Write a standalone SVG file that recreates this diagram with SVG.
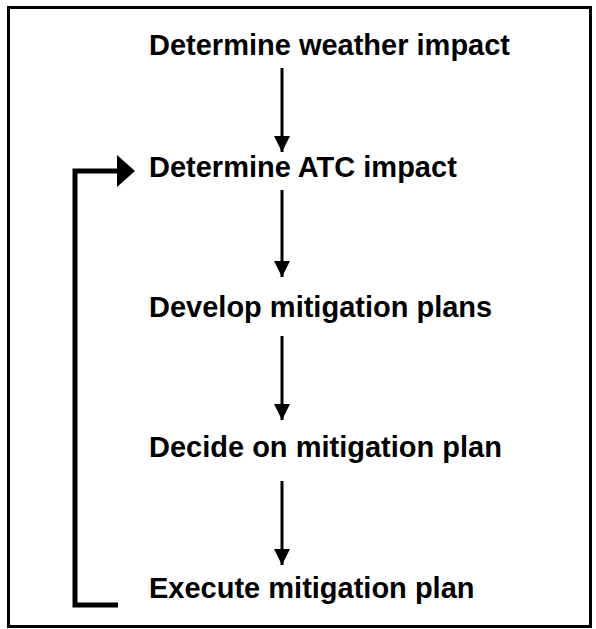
<svg xmlns="http://www.w3.org/2000/svg" width="596" height="629" viewBox="0 0 596 629">
<style>
.lbl{font-family:"Liberation Sans",Arial,sans-serif;font-weight:bold;font-size:29px;fill:#000}
.ln{stroke:#000;stroke-width:3;fill:none}
.loop{stroke:#000;stroke-width:5;fill:none}
</style>
<defs>
<marker id="ah" viewBox="0 0 10 10" refX="10" refY="5" markerWidth="5.5" markerHeight="6" markerUnits="strokeWidth" orient="auto">
<path d="M0,0 L10,5 L0,10 Z" fill="#000"/>
</marker>
</defs>
<rect x="0" y="0" width="596" height="629" fill="#fff"/>
<rect x="8.5" y="7.5" width="582" height="619" fill="#fff" stroke="#000" stroke-width="3"/>
<g id="n1"><text class="lbl" x="149" y="55">Determine weather impact</text></g>
<g id="n2"><text class="lbl" x="149" y="177">Determine ATC impact</text></g>
<g id="n3"><text class="lbl" x="149" y="317">Develop mitigation plans</text></g>
<g id="n4"><text class="lbl" x="149" y="457">Decide on mitigation plan</text></g>
<g id="n5"><text class="lbl" x="149" y="598">Execute mitigation plan</text></g>
<g id="connectors">
<line class="ln" x1="282" y1="68" x2="282" y2="152" marker-end="url(#ah)"/>
<line class="ln" x1="282" y1="190" x2="282" y2="277" marker-end="url(#ah)"/>
<line class="ln" x1="282" y1="336" x2="282" y2="420" marker-end="url(#ah)"/>
<line class="ln" x1="282" y1="481" x2="282" y2="565" marker-end="url(#ah)"/>
<path class="loop" d="M118,605 H75 V171 H118"/>
<polygon points="117,155 135,171 117,187" fill="#000"/>
</g>
</svg>
